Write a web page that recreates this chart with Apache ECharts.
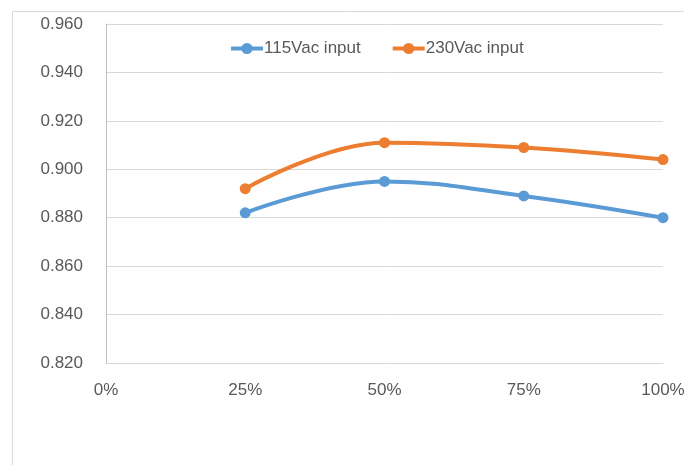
<!DOCTYPE html>
<html><head><meta charset="utf-8">
<script src="https://cdn.jsdelivr.net/npm/echarts@6/dist/echarts.min.js"></script>
<style>html,body{margin:0;padding:0;background:#fff}#c{width:684px;height:465px}</style>
</head><body><div id="c"></div>
<script>
const categories = ['0%', '25%', '50%', '75%', '100%'];
const series115 = [null, 0.882, 0.895, 0.889, 0.880];
const series230 = [null, 0.892, 0.911, 0.909, 0.904];
const seriesNames = ['115Vac input', '230Vac input'];
const yMin = 0.82, yMax = 0.96, yStep = 0.02;

const chart = echarts.init(document.getElementById('c'));
const font = '"Liberation Sans", Arial, sans-serif';
chart.setOption({
  animation: false,
  color: ['#5B9BD5', '#ED7D31'],
  graphic: [{
    type: 'rect', shape: {x: 12.5, y: 11.5, width: 800, height: 600},
    style: {fill: 'none', stroke: '#D9D9D9', lineWidth: 1}, z: -1
  }],
  legend: {
    left: 224, top: 35, itemWidth: 32, itemHeight: 14, itemGap: 30,
    lineStyle: {width: 4},
    textStyle: {fontFamily: font, fontSize: 17, color: '#595959', padding: [0, 0, 0, -4]},
    data: seriesNames
  },
  grid: {left: 106, right: 21, top: 24, bottom: 102, containLabel: false, outerBoundsMode: 'none'},
  xAxis: {
    type: 'category', data: categories, boundaryGap: false,
    axisLine: {show: true, lineStyle: {color: '#D9D9D9', width: 1}},
    axisTick: {show: false},
    axisLabel: {fontFamily: font, fontSize: 17, color: '#595959', margin: 19},
    splitLine: {show: false}
  },
  yAxis: {
    type: 'value', min: yMin, max: yMax, interval: yStep,
    axisLine: {show: true, lineStyle: {color: '#BFBFBF', width: 1}},
    axisTick: {show: false},
    axisLabel: {fontFamily: font, fontSize: 17, color: '#595959', margin: 23,
      formatter: v => v.toFixed(3)},
    splitLine: {lineStyle: {color: '#D9D9D9', width: 1}}
  },
  series: [
    {name: seriesNames[0], type: 'line', data: series115, smooth: 0.4,
     symbol: 'circle', symbolSize: 11, lineStyle: {width: 4}},
    {name: seriesNames[1], type: 'line', data: series230, smooth: 0.4,
     symbol: 'circle', symbolSize: 11, lineStyle: {width: 4}}
  ]
});
</script></body></html>
